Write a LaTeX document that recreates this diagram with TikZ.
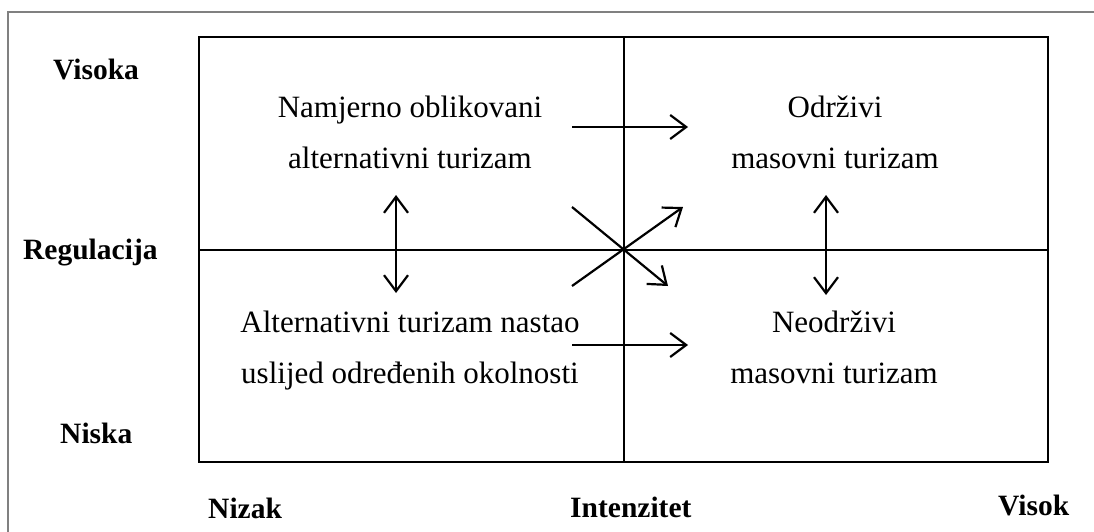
\documentclass[tikz,border=0pt]{standalone}
\usepackage{fontspec}
\setmainfont{Liberation Serif}
\usetikzlibrary{arrows.meta}

\begin{document}
\begin{tikzpicture}[x=1pt, y=-1pt,
    >={Straight Barb[length=16pt, width=24pt, line width=2.2pt]},
    axislabel/.style={font=\fontsize{29.5}{32}\selectfont\bfseries, inner sep=0pt, anchor=base west},
    quadtext/.style={font=\fontsize{31}{51}\selectfont, align=center, inner sep=0pt, anchor=base},
    flow/.style={line width=2.2pt, ->},
    twoway/.style={line width=2.2pt, <->}]
    \useasboundingbox (0,0) rectangle (1094,532);
    % frame and grid
    \draw[gray, line width=1.4pt] (8,532) -- (8,12) -- (1094,12);
    \draw[line width=2pt] (199,37) rectangle (1048,462);
    \draw[line width=2pt] (624,37) -- (624,462);
    \draw[line width=2pt] (199,250) -- (1048,250);

    \node[axislabel] (visoka) at (53,80) {Visoka};
    \node[axislabel] (reg) at (23,259) {Regulacija};
    \node[axislabel] (niska) at (60,443) {Niska};
    \node[axislabel] (nizak) at (208,518) {Nizak};
    \node[axislabel] (int) at (570,517) {Intenzitet};
    \node[axislabel] (visok) at (998,515) {Visok};

    % anchor base = last line
    \node[quadtext] (nam) at (410,168) {Namjerno oblikovani\\alternativni turizam};
    \node[quadtext] (odr) at (835,168) {Održivi\\masovni turizam};
    \node[quadtext] (alt) at (410,383) {Alternativni turizam nastao\\uslijed određenih okolnosti};
    \node[quadtext] (neo) at (834,383) {Neodrživi\\masovni turizam};

    % arrows
    \coordinate (t1) at (572,127);
    \coordinate (t2) at (688,127);
    \coordinate (b1) at (572,345);
    \coordinate (b2) at (688,345);
    \coordinate (l1) at (396,195);
    \coordinate (l2) at (396,293);
    \coordinate (r1) at (826,195);
    \coordinate (r2) at (826,295);
    \coordinate (d1) at (572,207);
    \coordinate (d2) at (668,286);
    \coordinate (u1) at (572,286);
    \coordinate (u2) at (683,207);
    \draw[flow] (t1) -- (t2);
    \draw[flow] (b1) -- (b2);
    \draw[twoway] (l1) -- (l2);
    \draw[twoway] (r1) -- (r2);
    \draw[flow] (d1) -- (d2);
    \draw[flow] (u1) -- (u2);
\end{tikzpicture}
\end{document}
